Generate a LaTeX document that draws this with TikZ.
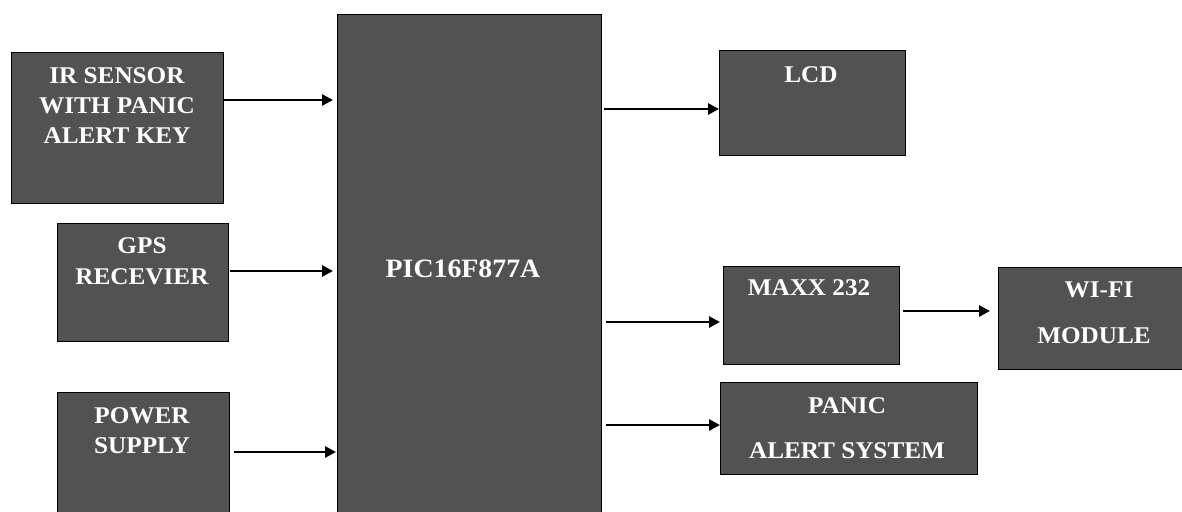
\documentclass[tikz,border=0pt]{standalone}
\usepackage{fontspec}
\setmainfont{Liberation Serif}
\newfontfamily\boxfont[FakeStretch=1.05]{Liberation Serif}
\usetikzlibrary{arrows.meta}
\definecolor{boxgray}{HTML}{525252}
\begin{document}
\begin{tikzpicture}[x=1pt,y=-1pt,
  blk/.style={draw=black, line width=0.9pt, fill=boxgray, rectangle, inner sep=0pt, outer sep=0pt},
  lbl/.style={text=white, font=\boxfont\bfseries\fontsize{24}{24}\selectfont, anchor=base, inner sep=0pt},
  biglbl/.style={lbl, font=\boxfont\bfseries\fontsize{26.5}{26.5}\selectfont},
  arr/.style={line width=2.8pt, -{Triangle[length=11pt,width=11pt]}}]
\useasboundingbox (0,0) rectangle (1182,511);
% boxes
\node[blk, minimum width=212pt, minimum height=151pt] (ir) at (117,127.5) {};
\node[blk, minimum width=171pt, minimum height=118pt] (gps) at (142.5,282) {};
\node[blk, minimum width=172pt, minimum height=138pt] (pwr) at (143,461) {};
\node[blk, minimum width=264pt, minimum height=516pt] (pic) at (469,272) {};
\node[blk, minimum width=186pt, minimum height=105pt] (lcd) at (812,102.5) {};
\node[blk, minimum width=176pt, minimum height=98pt] (max) at (811,315) {};
\node[blk, minimum width=202pt, minimum height=102pt] (wifi) at (1099,318) {};
\node[blk, minimum width=257pt, minimum height=92pt] (panic) at (848.5,428) {};
% labels
\node[lbl] (ir1) at (117,83) {IR SENSOR};
\node[lbl] (ir2) at (117,113) {WITH PANIC};
\node[lbl] (ir3) at (117,143) {ALERT KEY};
\node[lbl] (gps1) at (142,253) {GPS};
\node[lbl] (gps2) at (142,284) {RECEVIER};
\node[lbl] (pwr1) at (142,423) {POWER};
\node[lbl] (pwr2) at (142,453) {SUPPLY};
\node[biglbl] (pic1) at (463,277) {PIC16F877A};
\node[lbl] (lcd1) at (811,82) {LCD};
\node[lbl] (max1) at (809,295) {MAXX 232};
\node[lbl] (wifi1) at (1099,297) {WI-FI};
\node[lbl] (wifi2) at (1094,343) {MODULE};
\node[lbl] (panic1) at (847,413) {PANIC};
\node[lbl] (panic2) at (847,458) {ALERT SYSTEM};
% arrow levels
\coordinate (a1) at (0,100);
\coordinate (a2) at (0,271);
\coordinate (a3) at (0,452);
\coordinate (b1) at (0,109);
\coordinate (b2) at (0,322);
\coordinate (b3) at (0,425);
\coordinate (c1) at (0,311);
% connectors
\draw[arr, shorten >=4pt] (ir.east |- a1) -- (pic.west |- a1);
\draw[arr, shorten <=2pt, shorten >=4pt] (gps.east |- a2) -- (pic.west |- a2);
\draw[arr, shorten <=5pt, shorten >=1pt] (pwr.east |- a3) -- (pic.west |- a3);
\draw[arr, shorten <=3pt] (pic.east |- b1) -- (lcd.west |- b1);
\draw[arr, shorten <=5pt, shorten >=3pt] (pic.east |- b2) -- (max.west |- b2);
\draw[arr, shorten <=4pt, shorten >=8pt] (max.east |- c1) -- (wifi.west |- c1);
\draw[arr, shorten <=5pt] (pic.east |- b3) -- (panic.west |- b3);
\end{tikzpicture}
\end{document}
